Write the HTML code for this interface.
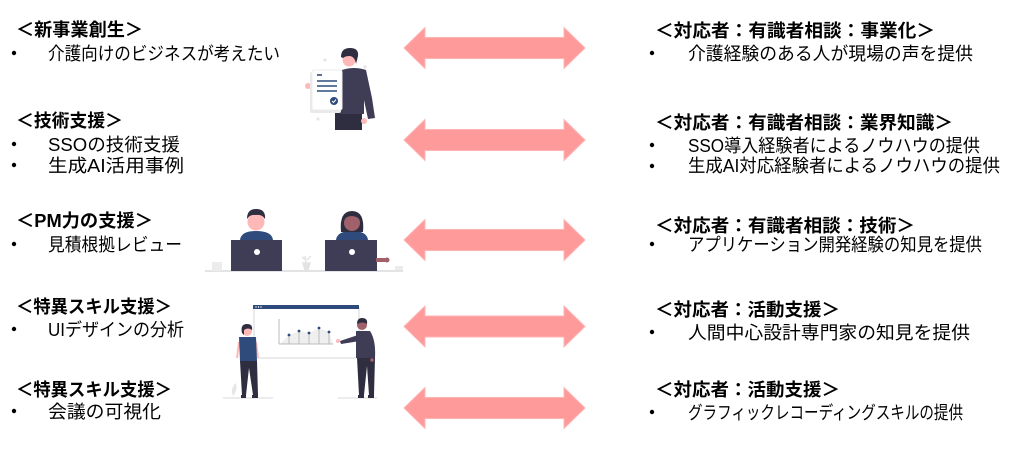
<!DOCTYPE html>
<html><head><meta charset="utf-8"><style>
html,body{margin:0;padding:0;background:#fff;width:1020px;height:455px;overflow:hidden}
svg{display:block}
text{font-family:"Liberation Sans","Noto Sans CJK JP",sans-serif;fill:#000}
.h{font-size:18px;font-weight:bold}
.b{font-size:18px}
</style></head><body>
<svg width="1020" height="455" viewBox="0 0 1020 455" xmlns="http://www.w3.org/2000/svg">
<!-- arrows -->
<g fill="#ff9a9b" stroke="#ffb4b4" stroke-width="1">
<path d="M404,48 L425,27.5 L425,37.5 L564,37.5 L564,27.5 L585,48 L564,68.5 L564,58.5 L425,58.5 L425,68.5 Z"/>
<path d="M404,140 L425,119.5 L425,129.5 L564,129.5 L564,119.5 L585,140 L564,160.5 L564,150.5 L425,150.5 L425,160.5 Z"/>
<path d="M404,240 L425,219.5 L425,229.5 L564,229.5 L564,219.5 L585,240 L564,260.5 L564,250.5 L425,250.5 L425,260.5 Z"/>
<path d="M404,326.5 L425,306 L425,316 L564,316 L564,306 L585,326.5 L564,347 L564,337 L425,337 L425,347 Z"/>
<path d="M404,408 L425,387.5 L425,397.5 L564,397.5 L564,387.5 L585,408 L564,428.5 L564,418.5 L425,418.5 L425,428.5 Z"/>
</g>

<!-- left texts -->
<text class="h" x="16" y="36" textLength="127" lengthAdjust="spacingAndGlyphs">＜新事業創生＞</text>
<text class="b" x="48" y="60" textLength="232" lengthAdjust="spacingAndGlyphs">介護向けのビジネスが考えたい</text>
<text class="h" x="16" y="127" textLength="107" lengthAdjust="spacingAndGlyphs">＜技術支援＞</text>
<text class="b" x="48" y="151" textLength="132" lengthAdjust="spacingAndGlyphs">SSOの技術支援</text>
<text class="b" x="48" y="172" textLength="136" lengthAdjust="spacingAndGlyphs">生成AI活用事例</text>
<text class="h" x="16" y="227" textLength="137" lengthAdjust="spacingAndGlyphs">＜PM力の支援＞</text>
<text class="b" x="48" y="251" textLength="134" lengthAdjust="spacingAndGlyphs">見積根拠レビュー</text>
<text class="h" x="16" y="313" textLength="156" lengthAdjust="spacingAndGlyphs">＜特異スキル支援＞</text>
<text class="b" x="48" y="336" textLength="136" lengthAdjust="spacingAndGlyphs">UIデザインの分析</text>
<text class="h" x="16" y="396" textLength="156" lengthAdjust="spacingAndGlyphs">＜特異スキル支援＞</text>
<text class="b" x="48" y="418" textLength="113" lengthAdjust="spacingAndGlyphs">会議の可視化</text>
<g fill="#000">
<circle cx="14" cy="53" r="2.2"/><circle cx="14" cy="144" r="2.2"/><circle cx="14" cy="165" r="2.2"/>
<circle cx="14" cy="244" r="2.2"/><circle cx="14" cy="329" r="2.2"/><circle cx="14" cy="411" r="2.2"/>
</g>

<!-- right texts -->
<text class="h" x="655" y="37" textLength="280" lengthAdjust="spacingAndGlyphs">＜対応者：有識者相談：事業化＞</text>
<text class="b" x="688" y="60" textLength="285" lengthAdjust="spacingAndGlyphs">介護経験のある人が現場の声を提供</text>
<text class="h" x="655" y="129" textLength="298" lengthAdjust="spacingAndGlyphs">＜対応者：有識者相談：業界知識＞</text>
<text class="b" x="688" y="152" textLength="292" lengthAdjust="spacingAndGlyphs">SSO導入経験者によるノウハウの提供</text>
<text class="b" x="688" y="172" textLength="312" lengthAdjust="spacingAndGlyphs">生成AI対応経験者によるノウハウの提供</text>
<text class="h" x="655" y="232" textLength="260" lengthAdjust="spacingAndGlyphs">＜対応者：有識者相談：技術＞</text>
<text class="b" x="688" y="251" textLength="294" lengthAdjust="spacingAndGlyphs">アプリケーション開発経験の知見を提供</text>
<text class="h" x="655" y="316" textLength="185" lengthAdjust="spacingAndGlyphs">＜対応者：活動支援＞</text>
<text class="b" x="688" y="339" textLength="282" lengthAdjust="spacingAndGlyphs">人間中心設計専門家の知見を提供</text>
<text class="h" x="655" y="396" textLength="185" lengthAdjust="spacingAndGlyphs">＜対応者：活動支援＞</text>
<text class="b" x="688" y="419" textLength="275" lengthAdjust="spacingAndGlyphs">グラフィックレコーディングスキルの提供</text>
<g fill="#000">
<circle cx="652" cy="53" r="2.2"/><circle cx="652" cy="145" r="2.2"/><circle cx="652" cy="166" r="2.2"/>
<circle cx="652" cy="244" r="2.2"/><circle cx="652" cy="332" r="2.2"/><circle cx="652" cy="412" r="2.2"/>
</g>

<!-- illustration 1: person with document -->
<g>
<circle cx="325" cy="60" r="1.6" fill="#e6e6e6"/>
<circle cx="365" cy="67" r="1.6" fill="#e6e6e6"/>
<circle cx="318" cy="119" r="1.6" fill="#e6e6e6"/>
<path d="M335,112 L362,112 L362,130 L335,130 Z" fill="#2f2e41"/>
<path d="M342,70 Q354,66 366,70 L372,98 L375,118 L368,119 L364,100 L364,114 L340,114 Z" fill="#3f3d56"/>
<circle cx="364" cy="121" r="3" fill="#ffb8b8"/>
<circle cx="349" cy="60" r="6.5" fill="#ffb8b8"/>
<path d="M341,57 Q341,48 350,48 Q359,48 358,56 L356,64 Q355,57 350,56 Q345,56 343,58 Z" fill="#2f2e41"/>
<circle cx="308" cy="86" r="3" fill="#ffb8b8"/>
<rect x="310" y="72" width="31" height="41" rx="2" fill="#e9e9e9"/>
<rect x="312" y="70" width="30" height="40" rx="2" fill="#fff" stroke="#ececec" stroke-width="1"/>
<g stroke="#2f4b7c" stroke-width="1.6">
<line x1="317" y1="75" x2="322" y2="75"/>
<line x1="317" y1="81" x2="337" y2="81"/>
<line x1="317" y1="86" x2="337" y2="86"/>
<line x1="317" y1="91" x2="337" y2="91"/>
</g>
<circle cx="334" cy="101" r="4" fill="#2f4b7c"/>
<path d="M332,101 L333.5,102.5 L336,99.5" stroke="#fff" stroke-width="1" fill="none"/>
</g>

<!-- illustration 2: two people with laptops -->
<g>
<line x1="205" y1="271" x2="403" y2="271" stroke="#e3e3e3" stroke-width="2"/>
<rect x="212" y="262" width="10" height="9" fill="#ececec"/>
<rect x="395" y="266" width="8" height="4" fill="#ececec"/>
<path d="M305,270 L303,263 L310,263 L308,270 Z M306,263 L305,256 M306,260 L302,257 M307,260 L311,256" stroke="#e3e3e3" stroke-width="1.5" fill="#e3e3e3"/>
<!-- person 1 -->
<path d="M240,240 Q241,231 256,231 Q272,231 273,240 Z" fill="#2f4b7c"/>
<circle cx="256" cy="222" r="8.5" fill="#ffb8b8"/>
<path d="M247,219 Q247,209 256,209 Q266,209 265,219 Q262,214 256,215 Q250,214 247,219 Z" fill="#2f2e41"/>
<rect x="231" y="240" width="51" height="31" fill="#3f3d56"/>
<circle cx="257" cy="252" r="3" fill="#fff"/>
<!-- person 2 -->
<path d="M336,240 Q337,231 352,231 Q367,231 368,240 Z" fill="#2f4b7c"/>
<path d="M341,232 Q339,211 352,211 Q365,211 363,232 Z" fill="#2f2e41"/>
<circle cx="352" cy="223" r="8" fill="#a0616a"/>
<path d="M343,220 Q344,212 352,212 Q360,212 361,220 Q356,216 352,216 Q347,216 343,220 Z" fill="#2f2e41"/>
<rect x="325" y="240" width="52" height="31" fill="#3f3d56"/>
<circle cx="352" cy="252" r="3" fill="#fff"/>
<path d="M376,258 L386,258 L386,262 L376,262 Z" fill="#a0616a"/>
<circle cx="387" cy="260" r="2.5" fill="#a0616a"/>
</g>

<!-- illustration 3: presentation -->
<g>
<rect x="254" y="308" width="105" height="50" fill="#fff" stroke="#ebebeb" stroke-width="2"/>
<rect x="253" y="305" width="106" height="4" fill="#2f4b7c"/>
<circle cx="256" cy="307" r="0.7" fill="#fff"/><circle cx="258.5" cy="307" r="0.7" fill="#fff"/><circle cx="261" cy="307" r="0.7" fill="#fff"/>
<path d="M280,344 L289,335 L299,331 L309,333 L319,328 L329,332 L333,344 Z" fill="#efefef"/>
<line x1="279" y1="319" x2="279" y2="344" stroke="#bbb" stroke-width="1"/>
<line x1="279" y1="344" x2="333" y2="344" stroke="#bbb" stroke-width="1"/>
<g stroke="#bbb" stroke-width="1">
<line x1="289" y1="335" x2="289" y2="344"/><line x1="299" y1="331" x2="299" y2="344"/>
<line x1="309" y1="333" x2="309" y2="344"/><line x1="319" y1="328" x2="319" y2="344"/>
<line x1="329" y1="332" x2="329" y2="344"/>
</g>
<g fill="#2f4b7c">
<circle cx="289" cy="335" r="1.4"/><circle cx="299" cy="331" r="1.4"/><circle cx="309" cy="333" r="1.4"/>
<circle cx="319" cy="328" r="1.4"/><circle cx="329" cy="332" r="1.4"/>
</g>
<line x1="223" y1="398" x2="273" y2="398" stroke="#e6e6e6" stroke-width="1.5"/>
<line x1="338" y1="398" x2="377" y2="398" stroke="#e6e6e6" stroke-width="1.5"/>
<path d="M233,396 Q230,388 236,383 Q238,390 233,396 Z" fill="#e6e6e6"/>
<!-- woman -->
<circle cx="247" cy="331" r="5" fill="#ffb8b8"/>
<path d="M242,333 Q240,324 247,324 Q253,324 252,330 Q248,327 244,330 L244,335 Z" fill="#2f2e41"/>
<line x1="239" y1="342" x2="237" y2="358" stroke="#ffb8b8" stroke-width="2"/>
<line x1="256" y1="342" x2="258" y2="358" stroke="#ffb8b8" stroke-width="2"/>
<path d="M239,337 L256,337 L257,361 L240,361 Z" fill="#2f4b7c"/>
<path d="M240,361 L257,361 L258,395 L253,395 L249,368 L246,395 L242,395 Z" fill="#2f2e41"/>
<rect x="241" y="395" width="5" height="3" fill="#2f2e41"/><rect x="252" y="395" width="6" height="3" fill="#2f2e41"/>
<!-- man -->
<circle cx="362" cy="325" r="5" fill="#a0616a"/>
<path d="M357,324 Q357,318 362,318 Q368,318 367,324 Q363,321 357,324 Z" fill="#2f2e41"/>
<path d="M356,331 L370,331 Q376,340 375,358 L356,358 Z" fill="#3f3d56"/>
<path d="M358,335 L340,341 L341,344 L360,341 Z" fill="#3f3d56"/>
<circle cx="338" cy="341" r="2" fill="#ffb8b8"/>
<path d="M357,358 L375,358 L374,395 L369,395 L367,366 L364,395 L359,395 Z" fill="#2f2e41"/>
<rect x="358" y="395" width="6" height="3" fill="#2f2e41"/><rect x="368" y="395" width="6" height="3" fill="#2f2e41"/>
<circle cx="372" cy="360" r="1.8" fill="#a0616a"/>
</g>
</svg>
</body></html>
